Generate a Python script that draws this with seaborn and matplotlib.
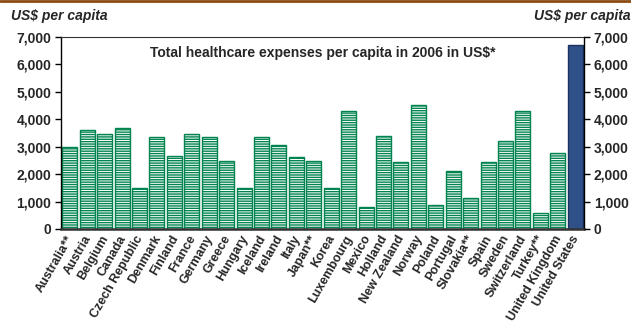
import matplotlib
matplotlib.use("Agg")
import matplotlib.pyplot as plt
import matplotlib.transforms as mtransforms
import seaborn as sns
import pandas as pd

countries = [
    "Australia**", "Austria", "Belgium", "Canada", "Czech Republic", "Denmark",
    "Finland", "France", "Germany", "Greece", "Hungary", "Iceland", "Ireland",
    "Italy", "Japan**", "Korea", "Luxembourg", "Mexico", "Holland", "New Zealand",
    "Norway", "Poland", "Portugal", "Slovakia**", "Spain", "Sweden", "Switzerland",
    "Turkey**", "United Kingdom", "United States",
]
spend = [
    2990, 3610, 3460, 3670, 1480, 3350, 2650, 3450, 3370, 2480, 1480, 3340, 3080,
    2610, 2480, 1480, 4310, 790, 3390, 2450, 4520, 880, 2120, 1130, 2450, 3220,
    4310, 590, 2770, 6710,
]
yticks = [0, 1000, 2000, 3000, 4000, 5000, 6000, 7000]
ytick_labels = ["0", "1,000", "2,000", "3,000", "4,000", "5,000", "6,000", "7,000"]
title = "Total healthcare expenses per capita in 2006 in US$*"
unit = "US$ per capita"

green = "#00844f"
blue = "#2f5089"

sns.set_theme(style="white")
plt.rcParams["font.family"] = ["Liberation Sans", "DejaVu Sans"]
plt.rcParams["hatch.linewidth"] = 1.0

df = pd.DataFrame({"country": countries, "spend": spend})

fig = plt.figure(figsize=(6.31, 3.25), dpi=100)
ax = fig.add_axes([0.0967, 0.2954, 0.8288, 0.5908])

sns.barplot(data=df, x="country", y="spend", color="white", width=0.86,
            saturation=1, ax=ax)

for i, patch in enumerate(ax.patches):
    if countries[i] == "United States":
        patch.set_facecolor(blue)
        patch.set_edgecolor("#1c3260")
        patch.set_linewidth(1.0)
    else:
        patch.set_facecolor("white")
        patch.set_edgecolor(green)
        patch.set_hatch("-------")
        patch.set_linewidth(1.0)

ax.set_xlim(-0.5, len(countries) - 0.5)
ax.set_ylim(0, 7000)
ax.set_yticks(yticks)
ax.set_yticklabels(ytick_labels, fontsize=10, fontweight="bold")
ax.set_xlabel("")
ax.set_ylabel("")
ax.tick_params(axis="y", direction="out", length=4, width=1, color="black",
               left=True, pad=3)
ax.tick_params(axis="x", length=0, pad=3)
ax.set_xticks(range(len(countries)))
ax.set_xticklabels(countries, rotation=60, ha="right", rotation_mode="anchor",
                   fontsize=9, fontweight="bold")
shift = mtransforms.ScaledTranslation(-4 / 100, 0, fig.dpi_scale_trans)
for lbl in ax.get_xticklabels():
    lbl.set_transform(lbl.get_transform() + shift)

for side in ["left", "right"]:
    ax.spines[side].set_color("black")
    ax.spines[side].set_linewidth(1.0)
ax.spines["top"].set_color("#333333")
ax.spines["top"].set_linewidth(0.8)
ax.spines["bottom"].set_color("#333333")
ax.spines["bottom"].set_linewidth(1.8)

ax2 = ax.twinx()
ax2.set_ylim(0, 7000)
ax2.set_yticks(yticks)
ax2.set_yticklabels(ytick_labels, fontsize=10, fontweight="bold")
ax2.tick_params(axis="y", direction="out", length=4, width=1, color="black",
                right=True, pad=3)
for s in ax2.spines.values():
    s.set_visible(False)
ax2.grid(False)
ax.grid(False)

ax.text(0.5, 0.915, title, transform=ax.transAxes, ha="center", va="center",
        fontsize=10, fontweight="bold")

fig.text(0.018, 0.952, unit, ha="left", va="center", fontsize=10,
         fontweight="bold", fontstyle="italic")
fig.text(0.999, 0.952, unit, ha="right", va="center", fontsize=10,
         fontweight="bold", fontstyle="italic")

fig.add_artist(plt.Line2D([0, 1], [0.997, 0.997], transform=fig.transFigure,
                          color="#8b4a12", linewidth=2))

fig.savefig("out.png", dpi=100)
